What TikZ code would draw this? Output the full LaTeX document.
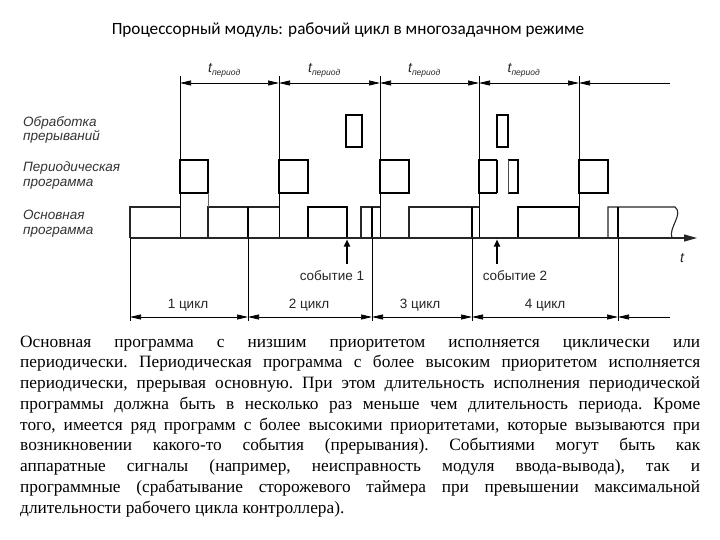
\documentclass[tikz,border=0pt]{standalone}
\usepackage{fontspec}
\setmainfont{Liberation Serif}
\newfontfamily\titlefont{Carlito}
\newfontfamily\labelfont{Liberation Sans}
\usetikzlibrary{arrows.meta}
\begin{document}
\begin{tikzpicture}[x=1pt,y=-1pt,
  thinline/.style={line width=0.7pt},
  mainline/.style={line width=1.1pt,black!85},
  boldline/.style={line width=2pt},
  perbox/.style={line width=2.8pt},
  intbox/.style={line width=2pt},
  dimline/.style={line width=0.7pt,{Triangle[length=11pt,width=5pt]}-{Triangle[length=11pt,width=5pt]}},
  dimhalf/.style={line width=0.7pt,{Triangle[length=11pt,width=5pt]}-},
  evt/.style={line width=1.8pt,-{Triangle[length=7pt,width=6pt]}},
  rowlbl/.style={font=\labelfont\itshape\fontsize{13.5}{15}\selectfont,text=black!80,anchor=base west,inner sep=0pt},
  smalllbl/.style={font=\labelfont\fontsize{13.5}{16}\selectfont,text=black!85,anchor=base,inner sep=0pt},
  perlbl/.style={font=\labelfont\itshape\fontsize{14}{15}\selectfont,text=black!85,anchor=base,inner sep=0pt}]
\useasboundingbox[fill=white] (0,0) rectangle (720,540);

% title
\node[font=\titlefont\fontsize{17.2}{20}\selectfont,anchor=base,inner sep=0pt] (title) at (348,35) {Процессорный модуль: рабочий цикл в многозадачном режиме};

% row labels
\node[rowlbl] (l1) at (23,127) {Обработка};
\node[rowlbl] (l2) at (23,141) {прерываний};
\node[rowlbl] (l3) at (23,172) {Периодическая};
\node[rowlbl] (l4) at (23,187) {программа};
\node[rowlbl] (l5) at (23,220) {Основная};
\node[rowlbl] (l6) at (23,235) {программа};

% period lines
\foreach \x in {180,279,380,479,579} \draw[thinline] (\x,76) -- (\x,238);
% top dimension line
\draw[dimline] (180,83) -- (279,83);
\draw[dimline] (279,83) -- (380,83);
\draw[dimline] (380,83) -- (479,83);
\draw[dimline] (479,83) -- (579,83);
\draw[dimhalf] (579,83) -- (670,83);
\foreach \c/\n in {224.5/p1,324.5/p2,424.5/p3,524/p4}
  \node[perlbl] (\n) at (\c,73) {\textit{t}\textsubscript{\fontsize{8.5}{9}\selectfont\textit{период}}};

% interrupt boxes
\draw[intbox] (346,115) rectangle (362,147);
\draw[intbox] (497,115) rectangle (508,147);

% periodic boxes
\draw[perbox] (180,160) rectangle (208,193);
\draw[perbox] (279,160) rectangle (308,193);
\draw[perbox] (380,160) rectangle (409,193);
\draw[perbox] (497,193) -- (479,193) -- (479,160) -- (497,160);
\draw[line width=1.1pt] (497,160) -- (497,193);
\draw[perbox] (508,160) -- (518,160) -- (518,193) -- (508,193);
\draw[line width=0.8pt,black!70] (508,160) -- (508,193);
\draw[perbox] (579,160) rectangle (608,193);

% main program
\draw[mainline] (130,238) |- (180,207);
\draw[mainline] (208,238) |- (279,207);
\draw[thinline,black!60] (208,193) -- (208,207);
\draw[boldline] (308,207) rectangle (347,238);
\draw[mainline] (361,238) |- (380,207);
\draw[mainline] (409,238) |- (479,207);
\draw[boldline] (518,207) rectangle (579,238);
\draw[mainline] (608,238) |- (675,207) .. controls (684,214) and (668,228) .. (672,238);
\foreach \x in {248,372,472,618} \draw[boldline] (\x,207) -- (\x,238);
% time axis
\draw[mainline,-{Triangle[length=13pt,width=7pt]}] (130,238) -- (697,238);
\node[perlbl] (t) at (682,262) {\textit{t}};

% events
\node[smalllbl] (e1) at (332,280) {событие 1};
\node[smalllbl] (e2) at (515,280) {событие 2};
\draw[evt] (347,264) -- (347,239.5);
\draw[evt] (497,264) -- (497,239.5);

% cycle lines
\foreach \x in {130,248,372,472,618} \draw[thinline] (\x,238) -- (\x,321);
\draw[dimline] (130,317) -- (248,317);
\draw[dimline] (248,317) -- (372,317);
\draw[dimline] (372,317) -- (472,317);
\draw[dimline] (472,317) -- (618,317);
\draw[dimhalf] (618,317) -- (670,317);
\node[smalllbl] (c1) at (188,308) {1 цикл};
\node[smalllbl] (c2) at (309,308) {2 цикл};
\node[smalllbl] (c3) at (420,308) {3 цикл};
\node[smalllbl] (c4) at (545,308) {4 цикл};

% body text
\node[anchor=base west,inner sep=0pt,text width=680pt,align=justify,
      font=\fontsize{17.3}{20.75}\selectfont] (body) at (20,347) {\frenchspacing
Основная программа с низшим приоритетом исполняется циклически или\linebreak
периодически. Периодическая программа с более высоким приоритетом исполняется\linebreak
периодически, прерывая основную. При этом длительность исполнения периодической\linebreak
программы должна быть в несколько раз меньше чем длительность периода. Кроме\linebreak
того, имеется ряд программ с более высокими приоритетами, которые вызываются при\linebreak
возникновении какого-то события (прерывания). Событиями могут быть как\linebreak
аппаратные сигналы (например, неисправность модуля ввода-вывода), так и\linebreak
программные (срабатывание сторожевого таймера при превышении максимальной\linebreak
длительности рабочего цикла контроллера).};
\end{tikzpicture}
\end{document}
